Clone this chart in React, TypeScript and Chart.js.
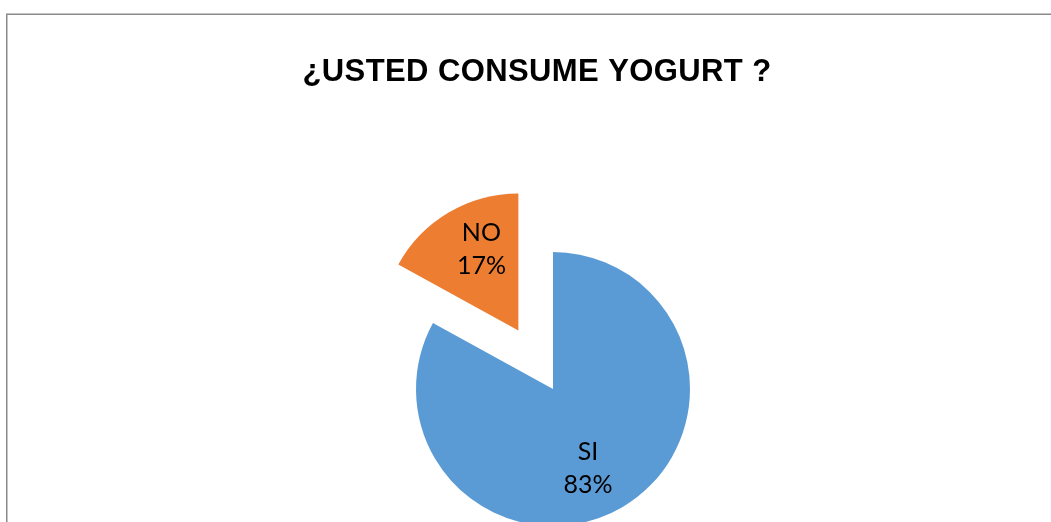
import React, { useEffect, useRef } from "react";
import { Chart, registerables } from "chart.js";

Chart.register(...registerables);

// ---- data ----
const TITLE = "¿USTED CONSUME YOGURT ?";
const CATEGORIES = ["SI", "NO"];
const VALUES = [83, 17];
const PERCENT_LABELS = ["83%", "17%"];

// ---- styling ----
const COLORS = ["#5B9BD5", "#ED7D31"];
const EXPLODE = [0, 68];
const LABEL_NUDGE = [
  [-10, 3],
  [8, -5],
];
const W = 1051;
const H = 522;
const CANVAS_H = 778;

const explodePlugin = {
  id: "explodeSlices",
  beforeDatasetDraw(chart: any, args: any) {
    const ctx = chart.ctx;
    args.meta.data.forEach((arc: any, i: number) => {
      const mid = (arc.startAngle + arc.endAngle) / 2;
      const ex = EXPLODE[i] || 0;
      ctx.save();
      ctx.translate(Math.cos(mid) * ex, Math.sin(mid) * ex);
      arc.draw(ctx);
      ctx.restore();
    });
    return false;
  },
  afterDatasetsDraw(chart: any) {
    const ctx = chart.ctx;
    const meta = chart.getDatasetMeta(0);
    ctx.save();
    ctx.fillStyle = "#000000";
    ctx.font = "25px Lato, 'Open Sans', sans-serif";
    ctx.textAlign = "center";
    ctx.textBaseline = "middle";
    meta.data.forEach((arc: any, i: number) => {
      const mid = (arc.startAngle + arc.endAngle) / 2;
      const ex = EXPLODE[i] || 0;
      const d = arc.outerRadius * 0.645 + ex;
      const x = arc.x + Math.cos(mid) * d + LABEL_NUDGE[i][0];
      const y = arc.y + Math.sin(mid) * d + LABEL_NUDGE[i][1];
      ctx.fillText(CATEGORIES[i], x, y - 16.5);
      ctx.fillText(PERCENT_LABELS[i], x, y + 16.5);
    });
    ctx.restore();
  },
  afterDraw(chart: any) {
    const ctx = chart.ctx;
    ctx.save();
    // chart frame
    ctx.strokeStyle = "#8a8a8a";
    ctx.lineWidth = 1.5;
    ctx.beginPath();
    ctx.moveTo(6.75, CANVAS_H);
    ctx.lineTo(6.75, 14.25);
    ctx.lineTo(W + 2, 14.25);
    ctx.stroke();
    // title
    ctx.fillStyle = "#000000";
    ctx.font = "bold 31px 'Liberation Sans', Arial, sans-serif";
    (ctx as any).letterSpacing = "0.4px";
    ctx.textAlign = "center";
    ctx.textBaseline = "alphabetic";
    ctx.fillText(TITLE, 537, 81);
    ctx.restore();
  },
};

export default function App() {
  const ref = useRef<HTMLCanvasElement | null>(null);
  useEffect(() => {
    if (!ref.current) return;
    const chart = new Chart(ref.current, {
      type: "pie",
      data: {
        labels: CATEGORIES,
        datasets: [
          {
            data: VALUES,
            backgroundColor: COLORS,
            borderWidth: 0,
            hoverOffset: 0,
          },
        ],
      },
      options: {
        responsive: false,
        animation: false,
        devicePixelRatio: 1,
        radius: 137,
        rotation: 0,
        layout: { padding: { left: 55, right: 0, top: 0, bottom: 0 } },
        plugins: {
          legend: { display: false },
          title: { display: false },
          tooltip: { enabled: false },
        },
        events: [],
      } as any,
      plugins: [explodePlugin],
    });
    return () => chart.destroy();
  }, []);
  return (
    <div
      style={{
        position: "fixed",
        left: 0,
        top: 0,
        width: W,
        height: H,
        overflow: "hidden",
        background: "#ffffff",
      }}
    >
      <canvas
        ref={ref}
        width={W}
        height={CANVAS_H}
        style={{ display: "block", width: W, height: CANVAS_H }}
      />
    </div>
  );
}
